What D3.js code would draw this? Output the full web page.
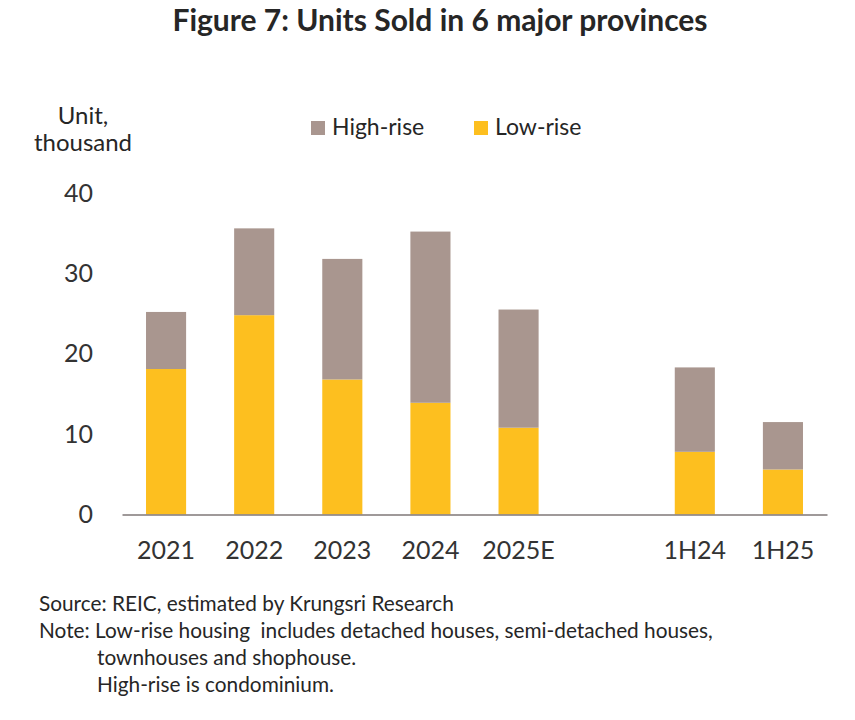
<!DOCTYPE html>
<html>
<head>
<meta charset="utf-8">
<script src="https://cdn.jsdelivr.net/npm/d3@7"></script>
<style>
  body { margin: 0; background: #fff; }
  text { font-family: Lato, "Open Sans", sans-serif; fill: #262626; }
</style>
</head>
<body>
<svg id="chart" width="855" height="720"></svg>
<script>
// categories, "" is the empty slot between 2025E and the half-year bars
var categories = ["2021", "2022", "2023", "2024", "2025E", "", "1H24", "1H25"];
var lowRise  = [18.1, 24.8, 16.8, 13.9, 10.8, null, 7.8, 5.6];
var highRise = [7.1, 10.8, 15.0, 21.3, 14.7, null, 10.5, 5.9];
var yTicks = [0, 10, 20, 30, 40];
var seriesNames = ["High-rise", "Low-rise"];
var seriesColors = {"High-rise": "#a9968f", "Low-rise": "#fdbf1f"};

var svg = d3.select("#chart");

var x = d3.scaleBand().domain(categories).range([122, 827]).paddingInner(0.545).paddingOuter(0.2725);
var y = d3.scaleLinear().domain([0, 40]).range([514.5, 193]);

// title
svg.append("text")
  .attr("x", 440).attr("y", 31)
  .attr("text-anchor", "middle")
  .style("font-size", "30px").style("font-weight", "bold")
  .text("Figure 7: Units Sold in 6 major provinces");

// y axis unit
svg.append("text").attr("x", 83).attr("y", 124).attr("text-anchor", "middle")
  .style("font-size", "24px").text("Unit,");
svg.append("text").attr("x", 83).attr("y", 151).attr("text-anchor", "middle")
  .style("font-size", "24px").text("thousand");

// stacked bars
var rows = categories.map(function(c, i){ return {cat: c, "Low-rise": lowRise[i], "High-rise": highRise[i]}; })
  .filter(function(d){ return d["Low-rise"] != null; });
var stack = d3.stack().keys(["Low-rise", "High-rise"])(rows);

svg.append("g").selectAll("g")
  .data(stack)
  .join("g")
    .attr("fill", function(s){ return seriesColors[s.key]; })
  .selectAll("rect")
  .data(function(s){ return s; })
  .join("rect")
    .attr("x", function(d){ return x(d.data.cat); })
    .attr("width", x.bandwidth())
    .attr("y", function(d){ return y(d[1]); })
    .attr("height", function(d){ return y(d[0]) - y(d[1]); });

// y axis (labels only)
var yAxis = svg.append("g").attr("transform", "translate(93,0)")
  .call(d3.axisLeft(y).tickValues(yTicks).tickSize(0).tickPadding(0));
yAxis.select(".domain").remove();
yAxis.selectAll("text").style("font-size", "25px").style("fill", "#333")
  .style("font-family", "Lato, 'Open Sans', sans-serif");

// x axis
var xAxis = svg.append("g").attr("transform", "translate(0," + y(0) + ")")
  .call(d3.axisBottom(x).tickSize(0).tickPadding(27));
xAxis.select(".domain").attr("stroke", "#7f7777").attr("stroke-width", 1.5);
xAxis.selectAll("text").style("font-size", "25px").style("fill", "#333")
  .style("font-family", "Lato, 'Open Sans', sans-serif");

// legend
var legendX = [311, 474];
var legend = svg.append("g").selectAll("g").data(seriesNames).join("g")
  .attr("transform", function(d, i){ return "translate(" + legendX[i] + ",121)"; });
legend.append("rect").attr("width", 14).attr("height", 14)
  .attr("fill", function(d){ return seriesColors[d]; });
legend.append("text").attr("x", 21).attr("y", 14)
  .style("font-size", "23px").text(function(d){ return d; });

// notes
var notes = [
  [39, 611, "Source: REIC, estimated by Krungsri Research"],
  [39, 638, "Note: Low-rise housing  includes detached houses, semi-detached houses,"],
  [97, 665, "townhouses and shophouse."],
  [97, 692, "High-rise is condominium."]
];
svg.append("g").selectAll("text").data(notes).join("text")
  .attr("x", function(d){ return d[0]; })
  .attr("y", function(d){ return d[1]; })
  .style("font-size", "20.8px")
  .style("white-space", "pre")
  .text(function(d){ return d[2]; });
</script>
</body>
</html>
